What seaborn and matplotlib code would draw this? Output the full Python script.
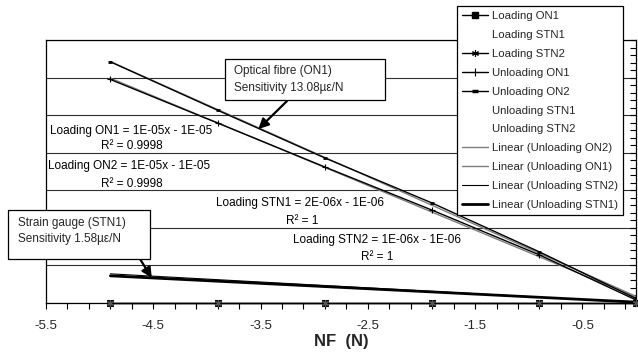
import numpy as np
import pandas as pd
import matplotlib
matplotlib.use("Agg")
import matplotlib.pyplot as plt
from matplotlib.lines import Line2D
from matplotlib.patches import Rectangle
from matplotlib.ticker import MultipleLocator, FixedLocator, NullFormatter
import seaborn as sns

# Applied force (N) and measured strain (microstrain)
nf = [-4.9, -3.9, -2.9, -1.9, -0.9, 0.0]
loading_on1 = [0.0, 0.0, 0.0, 0.0, 0.0, 0.0]
loading_stn2 = [0.0, 0.0, 0.0, 0.0, 0.0, 0.0]
unloading_on1 = [59.5, 47.9, 36.2, 24.7, 12.8, 0.8]
unloading_on2 = [64.2, 51.3, 38.6, 26.6, 13.6, 1.2]
unloading_stn1 = [7.2, 5.8, 4.4, 3.0, 1.5, 0.2]
unloading_stn2 = [7.8, 6.2, 4.6, 3.1, 1.5, 0.2]

xtick_values = [-5.5, -4.5, -3.5, -2.5, -1.5, -0.5]
xtick_labels = ["-5.5", "-4.5", "-3.5", "-2.5", "-1.5", "-0.5"]

legend_labels = ["Loading ON1", "Loading STN1", "Loading STN2", "Unloading ON1",
                 "Unloading ON2", "Unloading STN1", "Unloading STN2",
                 "Linear (Unloading ON2)", "Linear (Unloading ON1)",
                 "Linear (Unloading STN2)", "Linear (Unloading STN1)"]

equations = [
    ("Loading ON1 = 1E-05x - 1E-05", 131, 131),
    ("R\u00b2 = 0.9998", 132, 146),
    ("Loading ON2 = 1E-05x - 1E-05", 129.5, 166),
    ("R\u00b2 = 0.9998", 132, 184),
    ("Loading STN1 = 2E-06x - 1E-06", 300, 203),
    ("R\u00b2 = 1", 302, 221),
    ("Loading STN2 = 1E-06x - 1E-06", 377, 240),
    ("R\u00b2 = 1", 377.5, 257),
]

sns.set_theme(style="white")
plt.rcParams["font.family"] = ["Liberation Sans", "DejaVu Sans"]

W, H = 638, 352
fig = plt.figure(figsize=(W / 100, H / 100), dpi=100)
ax = fig.add_axes([46 / W, 1 - 303 / H, (636 - 46) / W, (303 - 40) / H])


def fx(px):
    return px / W


def fy(py):
    return 1 - py / H


df = pd.DataFrame({
    "NF": nf,
    "Loading ON1": loading_on1,
    "Loading STN2": loading_stn2,
    "Unloading ON1": unloading_on1,
    "Unloading ON2": unloading_on2,
    "Unloading STN1": unloading_stn1,
    "Unloading STN2": unloading_stn2,
})

# Linear trendlines
sns.regplot(data=df, x="NF", y="Unloading ON2", ax=ax, scatter=False, ci=None,
            truncate=True, line_kws=dict(color="#7f7f7f", lw=1.0, zorder=2))
sns.regplot(data=df, x="NF", y="Unloading ON1", ax=ax, scatter=False, ci=None,
            truncate=True, line_kws=dict(color="#7f7f7f", lw=1.0, zorder=2))
sns.regplot(data=df, x="NF", y="Unloading STN2", ax=ax, scatter=False, ci=None,
            truncate=True, line_kws=dict(color="black", lw=0.8, zorder=3))
sns.regplot(data=df, x="NF", y="Unloading STN1", ax=ax, scatter=False, ci=None,
            truncate=True, line_kws=dict(color="black", lw=2.0, zorder=3))

# Measured series
sns.lineplot(data=df, x="NF", y="Unloading ON2", ax=ax, color="black", lw=1.0,
             marker="_", markersize=3, markeredgewidth=2, mec="black", zorder=4)
sns.lineplot(data=df, x="NF", y="Unloading ON1", ax=ax, color="black", lw=1.0,
             marker="+", markersize=4, markeredgewidth=0.8, mec="black", zorder=4)
sns.lineplot(data=df, x="NF", y="Loading ON1", ax=ax, color="black", lw=1.0,
             marker="s", markersize=4, mec="black", mfc="#222222",
             clip_on=False, zorder=5)
sns.lineplot(data=df, x="NF", y="Loading STN2", ax=ax, color="black", lw=1.0,
             marker=(6, 2, 0), markersize=5, markeredgewidth=0.8, mec="#555555",
             clip_on=False, zorder=6)

ax.set_xlim(-5.5, 0.0)
ax.set_ylim(0, 70)

# x axis ticks
ax.xaxis.set_major_locator(FixedLocator(xtick_values))
ax.set_xticklabels(xtick_labels, fontsize=9.5)
ax.xaxis.set_minor_locator(FixedLocator(np.round(np.arange(-5.5, 0.01, 0.2), 2)))
ax.tick_params(axis="x", which="both", direction="out", length=4, width=0.8,
               bottom=True, color="black", pad=8)

# y axis on the right, unlabelled
ax.yaxis.tick_right()
ax.yaxis.set_major_locator(MultipleLocator(10))
ax.yaxis.set_minor_locator(MultipleLocator(2))
ax.yaxis.set_major_formatter(NullFormatter())
ax.tick_params(axis="y", which="both", direction="in", length=4.5, width=0.8,
               right=True, left=False, color="black")
ax.set_ylabel("")
ax.grid(axis="y", which="major", color="#303030", lw=0.8)
ax.grid(axis="x", visible=False)
ax.set_axisbelow(True)

for s in ax.spines.values():
    s.set_visible(True)
    s.set_color("black")
    s.set_linewidth(0.9)

ax.set_xlabel("NF  (N)", fontsize=12, fontweight="bold", labelpad=2)

# Trendline equations
for text, x, y in equations:
    fig.text(fx(x), fy(y), text, ha="center", va="center", fontsize=8.5,
             color="black")

# Callout boxes
for (x0, y0, x1, y1) in [(225, 59, 385, 100), (8, 210, 150, 259)]:
    fig.patches.append(Rectangle((fx(x0), fy(y1)), fx(x1) - fx(x0), fy(y0) - fy(y1),
                                 transform=fig.transFigure, fc="white",
                                 ec="black", lw=0.9, zorder=7))
fig.text(fx(234), fy(79.5), "Optical fibre (ON1)\nSensitivity 13.08\u00b5\u03b5/N",
         ha="left", va="center", fontsize=8.5, linespacing=1.45, zorder=8)
fig.text(fx(18), fy(231), "Strain gauge (STN1)\nSensitivity 1.58\u00b5\u03b5/N",
         ha="left", va="center", fontsize=8.5, linespacing=1.45, zorder=8)

arrow_kw = dict(arrowstyle="-|>,head_length=0.5,head_width=0.25", color="black",
                lw=1.6, shrinkA=0, shrinkB=0)
ax.annotate("", xy=(-3.52, 46.3), xycoords="data",
            xytext=(fx(287), fy(101)), textcoords="figure fraction",
            arrowprops=arrow_kw, zorder=9)
ax.annotate("", xy=(-4.514, 6.7), xycoords="data",
            xytext=(fx(140), fy(259)), textcoords="figure fraction",
            arrowprops=arrow_kw, zorder=9)

# Legend
blank = dict(linestyle="none", marker=None)
handles = [
    Line2D([], [], color="black", lw=1.0, marker="s", markersize=4),
    Line2D([], [], **blank),
    Line2D([], [], color="black", lw=1.0, marker=(6, 2, 0), markersize=5,
           markeredgewidth=0.8),
    Line2D([], [], color="black", lw=1.0, marker="+", markersize=6,
           markeredgewidth=0.8),
    Line2D([], [], color="black", lw=1.0, marker="_", markersize=4,
           markeredgewidth=2.5),
    Line2D([], [], **blank),
    Line2D([], [], **blank),
    Line2D([], [], color="#7f7f7f", lw=1.0),
    Line2D([], [], color="#7f7f7f", lw=1.0),
    Line2D([], [], color="black", lw=0.8),
    Line2D([], [], color="black", lw=2.0),
]
leg = fig.legend(handles, legend_labels, loc="upper left",
                 bbox_to_anchor=(fx(457), fy(6)), bbox_transform=fig.transFigure,
                 borderaxespad=0, fontsize=8.2, frameon=True, fancybox=False,
                 edgecolor="black", framealpha=1, labelspacing=0.78,
                 handlelength=2.3, handletextpad=0.35, borderpad=0.45)
leg.get_frame().set_linewidth(0.9)
leg.set_zorder(10)

fig.savefig("out.png", dpi=100)
